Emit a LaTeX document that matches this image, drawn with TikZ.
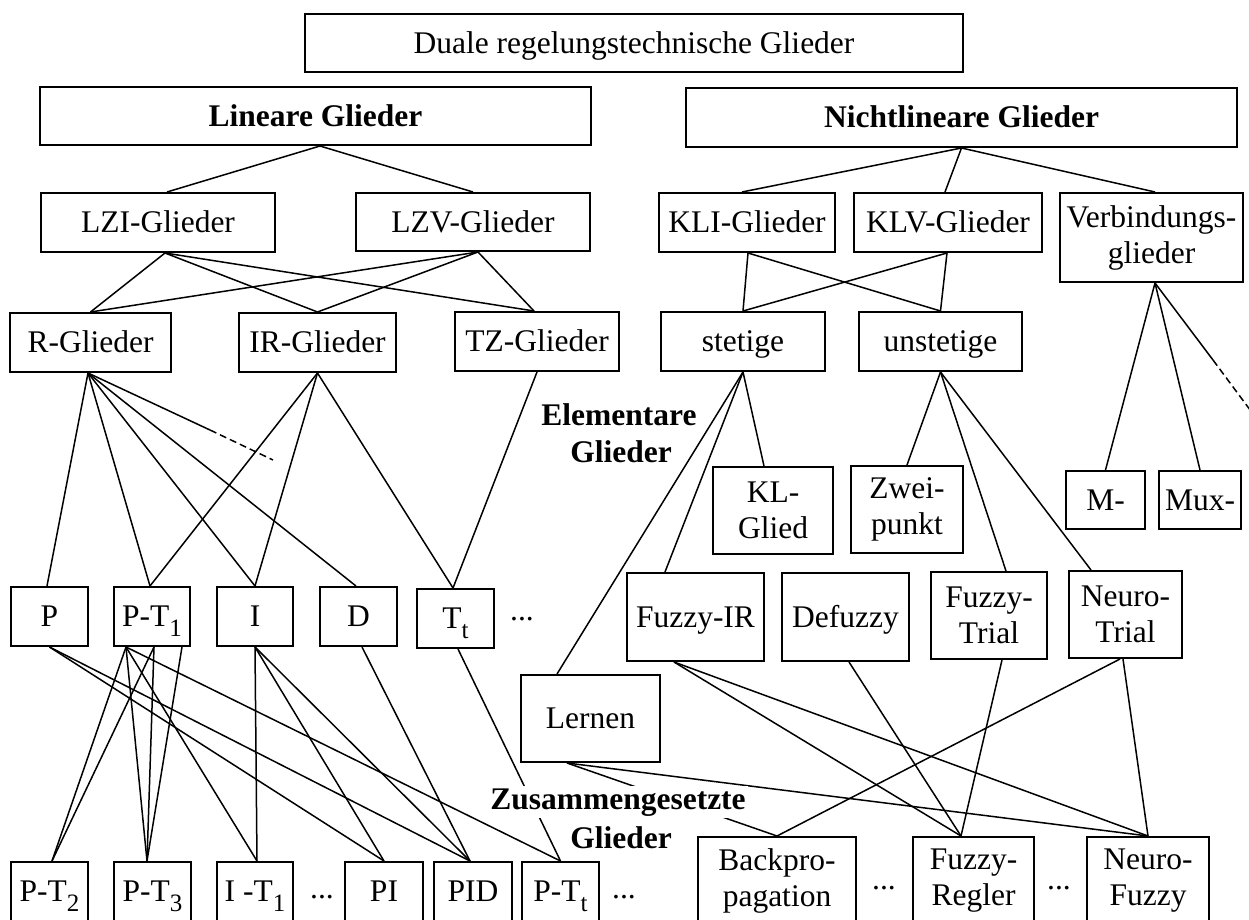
\documentclass[tikz,border=0pt]{standalone}
\usepackage{fontspec}
\setmainfont{Liberation Serif}
\newcommand\subs[1]{\raisebox{-5pt}[0pt][0pt]{\fontsize{12.5}{12.5}\selectfont #1}}
\begin{document}
\begin{tikzpicture}[x=0.5pt,y=-0.5pt,
  box/.style={draw, line width=1pt, inner sep=0pt, align=center,
    font=\fontsize{15.75}{18}\selectfont},
  one/.style={text height=10.4pt, text depth=0pt},
  lbl/.style={inner sep=0pt, anchor=base, font=\fontsize{15.75}{17.25}\selectfont\bfseries},
  dots/.style={inner sep=0pt, font=\fontsize{15.75}{17.25}\selectfont},
  con/.style={line width=0.75pt},
  dashcon/.style={line width=0.75pt, dash pattern=on 3.5pt off 2pt}]
\useasboundingbox (0,0) rectangle (1249,920);
\fill[white] (0,0) rectangle (1249,920);
\clip (0,0) rectangle (1249,920);

% ---- top levels
\node[box,one,minimum width=329pt,minimum height=29pt] (duale) at (634,43) {Duale regelungstechnische Glieder};
\node[box,one,minimum width=275.5pt,minimum height=29pt] (lin) at (315.5,116) {\textbf{Lineare Glieder}};
\node[box,one,minimum width=275.5pt,minimum height=29.5pt] (nlin) at (961.5,117.5) {\textbf{Nichtlineare Glieder}};

\node[box,one,minimum width=117pt,minimum height=29.5pt] (lzi) at (158,222.5) {LZI-Glieder};
\node[box,one,minimum width=117pt,minimum height=29pt] (lzv) at (473,222) {LZV-Glieder};
\node[box,one,minimum width=88pt,minimum height=29.5pt] (kli) at (747,222.5) {KLI-Glieder};
\node[box,one,minimum width=94pt,minimum height=29.5pt] (klv) at (948,222.5) {KLV-Glieder};
\node[box,minimum width=91.5pt,minimum height=44.5pt] (verb) at (1151.5,237.5) {Verbindungs-\\glieder};

\node[box,one,minimum width=80.5pt,minimum height=29.5pt] (rgl) at (90.5,342.5) {R-Glieder};
\node[box,one,minimum width=78.5pt,minimum height=29.5pt] (irgl) at (317.5,342.5) {IR-Glieder};
\node[box,one,minimum width=82pt,minimum height=29.5pt] (tzgl) at (537,341.5) {TZ-Glieder};
\node[box,one,minimum width=82pt,minimum height=29.5pt] (stet) at (743,341.5) {stetige};
\node[box,one,minimum width=81.5pt,minimum height=29.5pt] (unst) at (940.5,341.5) {unstetige};

\node[box,minimum width=60pt,minimum height=43.5pt] (klg) at (773,510.5) {KL-\\Glied};
\node[box,minimum width=56pt,minimum height=43.5pt] (zwei) at (907,509.5) {Zwei-\\punkt};
\node[box,one,minimum width=39.5pt,minimum height=29pt] (mm) at (1105.5,500) {M-};
\node[box,one,minimum width=41pt,minimum height=29pt] (mux) at (1200,500) {Mux-};

% ---- elementary linear
\node[box,one,minimum width=38.5pt,minimum height=29.5pt] (pp) at (49.5,616.5) {P};
\node[box,one,minimum width=38pt,minimum height=29.5pt] (pt1) at (152,616.5) {P-T\subs{1}};
\node[box,one,minimum width=38pt,minimum height=29.5pt] (ii) at (255,616.5) {I};
\node[box,one,minimum width=38.5pt,minimum height=29.5pt] (dd) at (358.5,616.5) {D};
\node[box,one,minimum width=38.5pt,minimum height=29.5pt] (tt) at (455.5,618.5) {T\subs{t}};
\node[dots] (d1) at (522,619) {...};

% ---- elementary nonlinear
\node[box,one,minimum width=68.5pt,minimum height=44pt] (fir) at (695.5,617) {Fuzzy-IR};
\node[box,one,minimum width=63.5pt,minimum height=44pt] (defz) at (845.5,617) {Defuzzy};
\node[box,minimum width=58pt,minimum height=43.5pt] (ftr) at (989,615.5) {Fuzzy-\\Trial};
\node[box,minimum width=56.5pt,minimum height=43.5pt] (ntr) at (1125.5,614.5) {Neuro-\\Trial};
\node[box,one,minimum width=69.5pt,minimum height=43.5pt] (lern) at (590.5,718.5) {Lernen};

% ---- composite
\node[box,one,minimum width=38.5pt,minimum height=29.5pt] (pt2) at (49.5,891.5) {P-T\subs{2}};
\node[box,one,minimum width=38.5pt,minimum height=29.5pt] (pt3) at (152.5,891.5) {P-T\subs{3}};
\node[box,one,minimum width=38pt,minimum height=29.5pt] (it1) at (255,891.5) {I -T\subs{1}};
\node[dots] (d2) at (322,897) {...};
\node[box,one,minimum width=39pt,minimum height=29.5pt] (pi) at (384,891.5) {PI};
\node[box,one,minimum width=39pt,minimum height=29.5pt] (pid) at (473,891.5) {PID};
\node[box,one,minimum width=38.5pt,minimum height=29.5pt] (ptt) at (560.5,891.5) {P-T\subs{t}};
\node[dots] (d3) at (624,897) {...};
\node[box,minimum width=79pt,minimum height=43.5pt] (bp) at (777,880.5) {Backpro-\\pagation};
\node[dots] (d4) at (884,888) {...};
\node[box,minimum width=60.5pt,minimum height=43.5pt] (freg) at (973.5,880.5) {Fuzzy-\\Regler};
\node[dots] (d5) at (1059,888) {...};
\node[box,minimum width=61pt,minimum height=43.5pt] (nf) at (1148,880.5) {Neuro-\\Fuzzy};

% ---- connectors: linear part
\draw[con] ([xshift=2.25pt]lin.south) -- ([xshift=4.5pt]lzi.north);
\draw[con] ([xshift=2.25pt]lin.south) -- (lzv.north);
\foreach \s/\d in {lzi/3.5pt, lzv/2.5pt}{
  \draw[con] ([xshift=\d]\s.south) -- (rgl.north);
  \draw[con] ([xshift=\d]\s.south) -- (irgl.north);
  \draw[con] ([xshift=\d]\s.south) -- ([xshift=-1.5pt]tzgl.north);
}
\coordinate (rd1) at (210,430);
\coordinate (rd2) at (273,460);
\draw[con] ([xshift=-1.25pt]rgl.south) -- ([xshift=-1.25pt]pp.north);
\draw[con] ([xshift=-1.25pt]rgl.south) -- ([xshift=-1pt]pt1.north);
\draw[con] ([xshift=-1.25pt]rgl.south) -- (ii.north);
\draw[con] ([xshift=-1.25pt]rgl.south) -- ([xshift=-1.25pt]dd.north);
\draw[con] ([xshift=-1.25pt]rgl.south) -- (rd1);
\draw[dashcon] (rd1) -- (rd2);
\draw[con] (irgl.south) -- ([xshift=-1pt]pt1.north);
\draw[con] (irgl.south) -- (ii.north);
\draw[con] (irgl.south) -- ([xshift=-1.25pt]tt.north);
\draw[con] (tzgl.south) -- ([xshift=-1.25pt]tt.north);

\draw[con] (pp.south) -- (pi.north);
\draw[con] (pp.south) -- ([xshift=-1.5pt]pid.north);
\draw[con] ([xshift=-13pt]pt1.south) -- ([xshift=1.25pt]pt2.north);
\draw[con] ([xshift=-13pt]pt1.south) -- ([xshift=-2.75pt]pt3.north);
\draw[con] ([xshift=-13pt]pt1.south) -- ([xshift=1pt]it1.north);
\draw[con] ([xshift=-13pt]pt1.south) -- (ptt.north);
\draw[con] ([xshift=1pt]pt1.south) -- ([xshift=1.25pt]pt2.north);
\draw[con] ([xshift=1pt]pt1.south) -- ([xshift=-2.75pt]pt3.north);
\draw[con] ([xshift=15pt]pt1.south) -- ([xshift=-2.75pt]pt3.north);
\draw[con] (ii.south) -- ([xshift=1pt]it1.north);
\draw[con] (ii.south) -- (pi.north);
\draw[con] (ii.south) -- ([xshift=-1.5pt]pid.north);
\draw[con] ([xshift=1.75pt]dd.south) -- ([xshift=-1.5pt]pid.north);
\draw[con] ([xshift=1.25pt]tt.south) -- (ptt.north);

% ---- connectors: nonlinear part
\draw[con] (nlin.south) -- ([xshift=-2.5pt]kli.north);
\draw[con] (nlin.south) -- ([xshift=-1.5pt]klv.north);
\draw[con] (nlin.south) -- ([xshift=1.75pt]verb.north);
\foreach \s/\d in {kli/0.5pt, klv/-0.5pt}{
  \draw[con] ([xshift=\d]\s.south) -- (stet.north);
  \draw[con] ([xshift=\d]\s.south) -- (unst.north);
}
\draw[con] (stet.south) -- ([xshift=-16.75pt]lern.north);
\draw[con] (stet.south) -- ([xshift=-15.25pt]fir.north);
\draw[con] (stet.south) -- ([xshift=-4.5pt]klg.north);
\draw[con] (unst.south) -- (zwei.north);
\draw[con] (unst.south) -- ([xshift=8.5pt]ftr.north);
\draw[con] (unst.south) -- ([xshift=-17.25pt]ntr.north);
\coordinate (vd1) at (1213,360);
\coordinate (vd2) at (1265,430);
\draw[con] ([xshift=1.75pt]verb.south) -- (mm.north);
\draw[con] ([xshift=1.75pt]verb.south) -- (mux.north);
\draw[con] ([xshift=1.75pt]verb.south) -- (vd1);
\draw[dashcon] (vd1) -- (vd2);

\draw[con] ([xshift=-10.75pt]fir.south) -- ([xshift=-6.25pt]freg.north);
\draw[con] ([xshift=-10.75pt]fir.south) -- (nf.north);
\draw[con] ([xshift=1.75pt]defz.south) -- ([xshift=-6.25pt]freg.north);
\draw[con] ([xshift=6.5pt]ftr.south) -- ([xshift=-6.25pt]freg.north);
\draw[con] ([xshift=-2.75pt]ntr.south) -- (bp.north);
\draw[con] ([xshift=-1.25pt]ntr.south) -- (nf.north);
\draw[con] ([xshift=-11.75pt]lern.south) -- (bp.north);
\draw[con] ([xshift=-11.75pt]lern.south) -- (nf.north);

% ---- labels
\node[lbl] (elem1) at (619,425) {Elementare};
\node[lbl] (elem2) at (621,462) {Glieder};
\node[lbl, fill=white, inner xsep=1pt, inner ysep=1pt] (zus1) at (618,809) {Zusammengesetzte};
\node[lbl] (zus2) at (621,848) {Glieder};
\end{tikzpicture}
\end{document}
